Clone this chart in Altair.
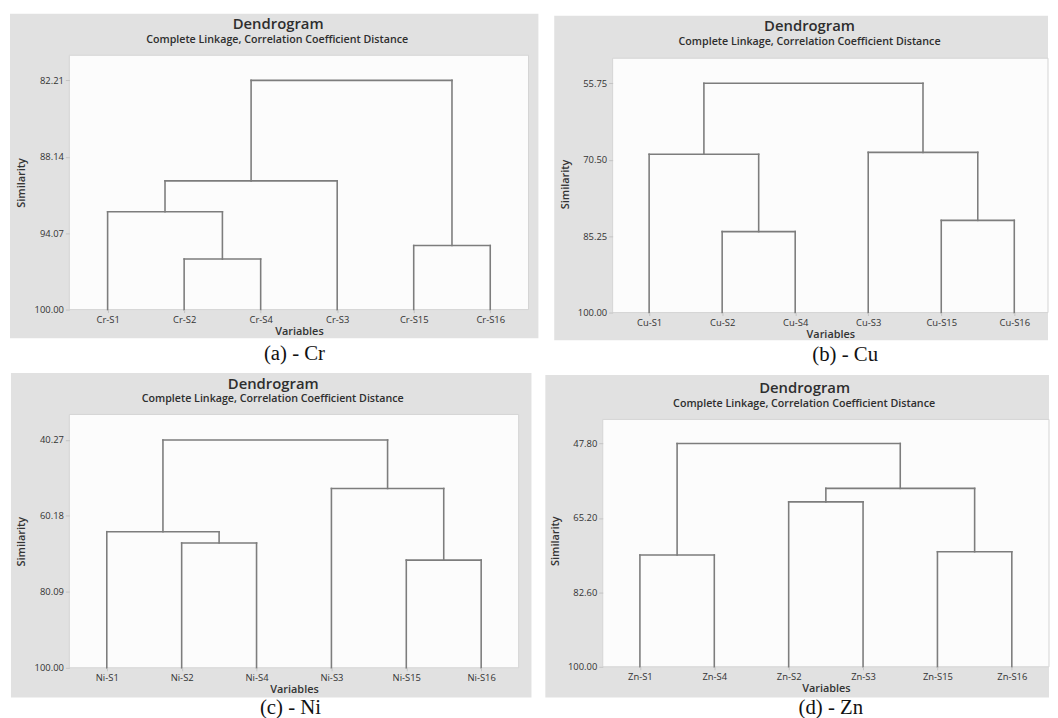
import altair as alt
import pandas as pd

# ---------------- data ----------------
cr_leaves = ["Cr-S1", "Cr-S2", "Cr-S4", "Cr-S3", "Cr-S15", "Cr-S16"]
cr_left = [1, 4, 0, 8, 9]
cr_right = [2, 5, 6, 3, 7]
cr_sim = [96.08, 95.03, 92.41, 90.01, 82.21]
cr_ticks = [82.21, 88.14, 94.07, 100.00]

cu_leaves = ["Cu-S1", "Cu-S2", "Cu-S4", "Cu-S3", "Cu-S15", "Cu-S16"]
cu_left = [1, 4, 0, 3, 8]
cu_right = [2, 5, 6, 7, 9]
cu_sim = [84.38, 82.21, 69.46, 69.08, 55.75]
cu_ticks = [55.75, 70.50, 85.25, 100.00]

ni_leaves = ["Ni-S1", "Ni-S2", "Ni-S4", "Ni-S3", "Ni-S15", "Ni-S16"]
ni_left = [4, 1, 0, 3, 8]
ni_right = [5, 2, 7, 6, 9]
ni_sim = [71.77, 67.28, 64.32, 53.00, 40.27]
ni_ticks = [40.27, 60.18, 80.09, 100.00]

zn_leaves = ["Zn-S1", "Zn-S4", "Zn-S2", "Zn-S3", "Zn-S15", "Zn-S16"]
zn_left = [0, 4, 2, 8, 6]
zn_right = [1, 5, 3, 7, 9]
zn_sim = [73.87, 73.10, 61.45, 58.30, 47.80]
zn_ticks = [47.80, 65.20, 82.60, 100.00]

TITLE = "Dendrogram"
SUBTITLE = "Complete Linkage, Correlation Coefficient Distance"
captions = ["(a) - Cr", "(b) - Cu", "(c) - Ni", "(d) - Zn"]

FONT = "Open Sans"
TXT = "#333333"


def segments(leaves, left, right, sim):
    n = len(leaves)
    pos = {i: (i + 1, 100.0) for i in range(n)}
    rows = []
    for k, (l, r, h) in enumerate(zip(left, right, sim)):
        xl, yl = pos[l]
        xr, yr = pos[r]
        rows.append(dict(x=xl, x2=xl, y=yl, y2=h))
        rows.append(dict(x=xr, x2=xr, y=yr, y2=h))
        rows.append(dict(x=xl, x2=xr, y=h, y2=h))
        pos[n + k] = ((xl + xr) / 2, h)
    return pd.DataFrame(rows)


def panel(leaves, left, right, sim, ticks, caption, g):
    W, H = g["W"], g["H"]
    one = pd.DataFrame({"k": [0]})
    base = alt.Chart(one)

    filler = base.mark_rect(color="white").encode(
        x=alt.value(-g["L"]), x2=alt.value(W + g["R"]),
        y=alt.value(-g["T"]), y2=alt.value(g["FB"]))
    gray = base.mark_rect(color="#e1e1e1").encode(
        x=alt.value(-g["L"]), x2=alt.value(W + g["R"]),
        y=alt.value(-g["T"]), y2=alt.value(H + g["B"]))
    plot_bg = base.mark_rect(fill="#fcfcfc", stroke="#d4d4d4", strokeWidth=1).encode(
        x=alt.value(0), x2=alt.value(g["PR"]),
        y=alt.value(g["PT"]), y2=alt.value(H))

    expr = ""
    for i, name in enumerate(leaves):
        expr += f"datum.value == {i + 1} ? '{name}' : "
    expr += "''"

    seg = segments(leaves, left, right, sim)
    lines = alt.Chart(seg).mark_rule(color="#7d7d7d", strokeWidth=1.6, strokeCap="square").encode(
        x=alt.X("x:Q",
                scale=alt.Scale(domain=g["xdom"], nice=False, zero=False),
                axis=alt.Axis(values=[1, 2, 3, 4, 5, 6], labelExpr=expr, title="Variables",
                              domain=False, grid=False, tickSize=3, tickColor="#c4c4c4",
                              labelPadding=2, labelFont=FONT, labelFontSize=9.5, labelColor=TXT,
                              labelAngle=0, titleFont=FONT, titleFontSize=11, titleFontWeight=600,
                              titleColor=TXT, titleY=22, titleBaseline="middle", zindex=1)),
        x2="x2:Q",
        y=alt.Y("y:Q",
                scale=alt.Scale(domain=[g["ytop"], 100], reverse=True, nice=False, zero=False),
                axis=alt.Axis(values=ticks, format=".2f", title="Similarity",
                              domain=False, grid=False, tickSize=4, tickColor="#c4c4c4",
                              labelPadding=2, labelFont=FONT, labelFontSize=9.5, labelColor=TXT,
                              titleFont=FONT, titleFontSize=11, titleFontWeight=600, titleColor=TXT,
                              titleAngle=270, titleX=-48, titleY=H / 2, titleAlign="center",
                              titleBaseline="middle", zindex=1)),
        y2="y2:Q",
    )

    title = base.mark_text(font=FONT, fontSize=15, fontWeight=600, color="#2e2e2e",
                           align="center", baseline="alphabetic").encode(
        x=alt.value(g["tx"]), y=alt.value(g["ty"]), text=alt.value(TITLE))
    subtitle = base.mark_text(font=FONT, fontSize=10.8, fontWeight=600, color="#2e2e2e",
                              align="center", baseline="alphabetic").encode(
        x=alt.value(g["sx"]), y=alt.value(g["sy"]), text=alt.value(SUBTITLE))
    cap = base.mark_text(font="Liberation Serif", fontSize=21, color="#111111",
                         align="center", baseline="alphabetic").encode(
        x=alt.value(g["cx"]), y=alt.value(g["cy"]), text=alt.value(caption))

    return alt.layer(filler, gray, plot_bg, lines, title, subtitle, cap).properties(width=W, height=H)


geo_a = dict(W=464, H=257, L=60, R=10, T=42, B=29, FB=315, PT=0, PR=464,
             xdom=[0.5, 6.5], ytop=80.26,
             tx=211, ty=-27, sx=210, sy=-12.5, cx=227.5, cy=308)
geo_b = dict(W=440, H=260, L=59, R=0, T=40, B=28, FB=315, PT=3, PR=440,
             xdom=[0.5, 6.462], ytop=50.34,
             tx=199, ty=-24.5, sx=199, sy=-10.5, cx=235, cy=309)
geo_c = dict(W=454, H=256, L=59, R=13, T=42, B=30, FB=304, PT=0, PR=454,
             xdom=[0.5, 6.5], ytop=33.60,
             tx=206, ty=-26, sx=205.5, sy=-12.5, cx=223.5, cy=302.5)
geo_d = dict(W=451, H=255, L=58, R=0, T=40, B=31, FB=304, PT=5, PR=451,
             xdom=[0.5, 6.5], ytop=41.02,
             tx=204, ty=-22, sx=203.5, sy=-8, cx=230.5, cy=302.5)

pa = panel(cr_leaves, cr_left, cr_right, cr_sim, cr_ticks, captions[0], geo_a)
pb = panel(cu_leaves, cu_left, cu_right, cu_sim, cu_ticks, captions[1], geo_b)
pc = panel(ni_leaves, ni_left, ni_right, ni_sim, ni_ticks, captions[2], geo_c)
pd_ = panel(zn_leaves, zn_left, zn_right, zn_sim, zn_ticks, captions[3], geo_d)

row1 = alt.hconcat(pa, pb, spacing=14)
row2 = alt.hconcat(pc, pd_, spacing=12)

chart = alt.vconcat(row1, row2, spacing=4).properties(
    padding={"left": 1, "top": 1, "right": 0, "bottom": 0},
    background="white",
).configure_view(stroke="transparent", fill="transparent")

chart.save("out.html", embed_options={"renderer": "svg", "actions": False})
